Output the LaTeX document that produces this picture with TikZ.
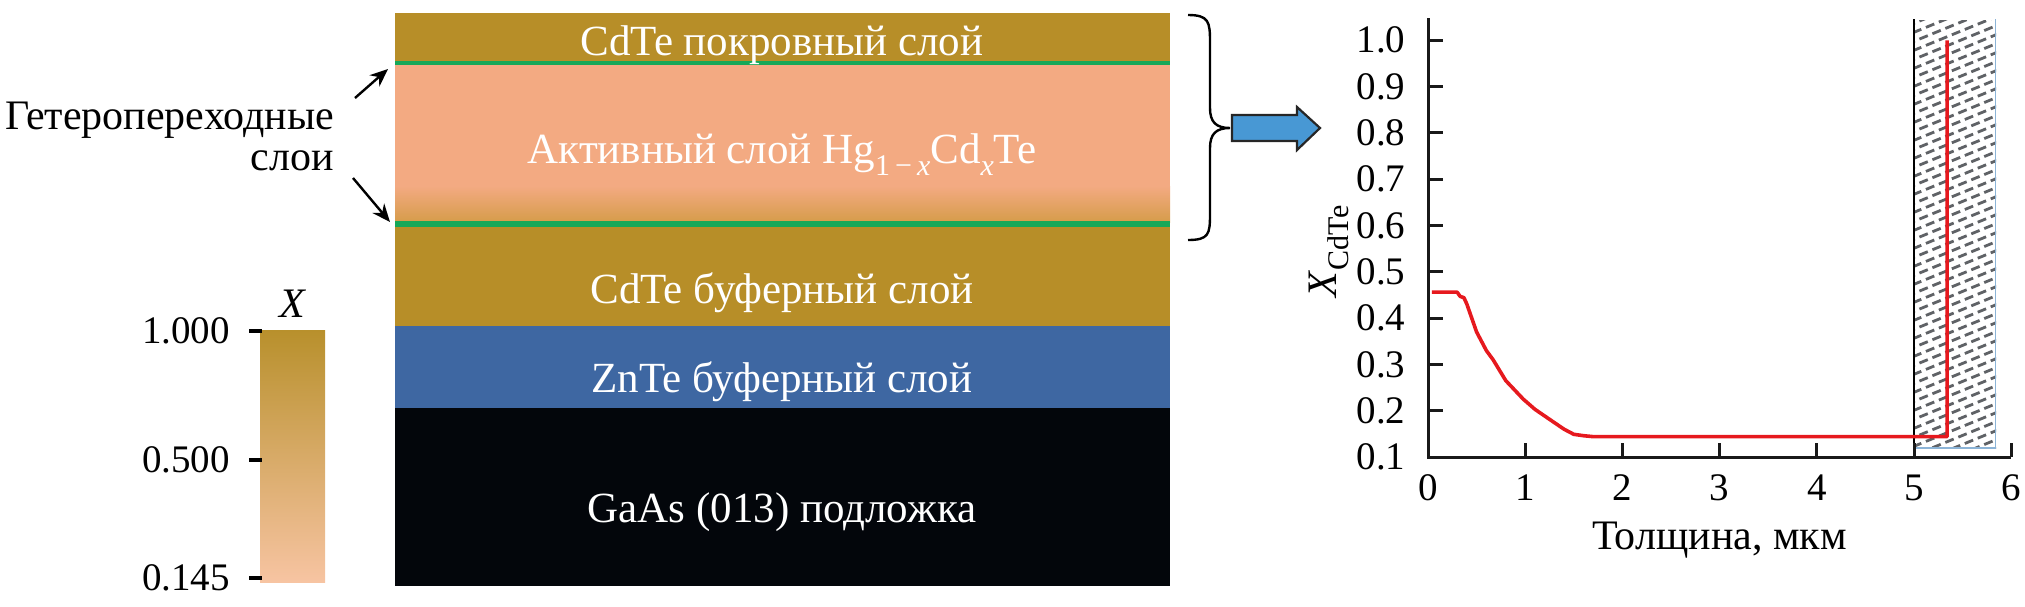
\documentclass[tikz,border=0pt]{standalone}
\usepackage{fontspec}
\setmainfont{Liberation Serif}
\usetikzlibrary{arrows.meta}
\definecolor{cdGold}{RGB}{183,142,40}
\definecolor{actPeach}{RGB}{243,170,130}
\definecolor{actLow}{RGB}{214,156,74}
\definecolor{junGreen}{RGB}{22,168,88}
\definecolor{znBlue}{RGB}{62,103,162}
\definecolor{gaBlack}{RGB}{3,6,11}
\definecolor{barTop}{RGB}{184,144,44}
\definecolor{barMid}{RGB}{218,170,112}
\definecolor{barBot}{RGB}{247,196,162}
\definecolor{arrBlue}{RGB}{72,152,212}
\definecolor{crvRed}{RGB}{230,25,30}
\definecolor{hatchGray}{RGB}{95,98,102}
\definecolor{hatchEdge}{RGB}{140,180,215}
\newcommand{\lsub}[1]{\raisebox{-0.28em}{\fontsize{15}{15}\selectfont #1}}
\tikzset{
    lyr/.style={font=\fontsize{21.5}{26}\selectfont, text=white, anchor=base},
    lbl/.style={font=\fontsize{21}{26}\selectfont},
    tck/.style={font=\fontsize{19.5}{24}\selectfont},
    ax/.style={line width=1.5pt, black!90},
    pt/.style={-{Stealth[length=9pt,width=7.5pt]}, line width=1.2pt},
    crv/.style={line width=1.8pt, crvRed, line join=round},
    hatchln/.style={line width=1.4pt, hatchGray, dash pattern=on 4.5pt off 2.5pt}
}

\begin{document}
\begin{tikzpicture}[x=0.5pt,y=-0.5pt,scale=1.0]
\useasboundingbox (0,0) rectangle (2025,606);
\fill[cdGold] (395,13) rectangle (1170,63);
\fill[actPeach] (395,63) rectangle (1170,224);
\shade[top color=actPeach,bottom color=actLow] (395,186) rectangle (1170,222);
\fill[cdGold] (395,224) rectangle (1170,326);
\fill[znBlue] (395,326) rectangle (1170,408);
\fill[gaBlack] (395,408) rectangle (1170,586);
\draw[junGreen,line width=2.2pt] (395,63)--(1170,63);
\draw[junGreen,line width=3pt] (395,224)--(1170,224);
\node[lyr] (capL) at (782,55) {CdTe покровный слой};
\node[lyr] (actL) at (782,163) {Активный слой Hg\lsub{1\,−\,\textit{x}}Cd\lsub{\textit{x}}Te};
\node[lyr] (bufL) at (782,303) {CdTe буферный слой};
\node[lyr] (znL) at (782,392) {ZnTe буферный слой};
\node[lyr] (gaL) at (782,522) {GaAs (013) подложка};
\node[lbl,anchor=base east] (hjL1) at (341,129) {Гетеропереходные};
\node[lbl,anchor=base east] (hjL2) at (341,170) {слои};
\coordinate (hjS1) at (355,98);
\coordinate (hjS2) at (353,178);
\coordinate (hjT) at (388,69);
\coordinate (hjB) at (390,222);
\draw[pt] (hjS1) -- (hjT);
\draw[pt] (hjS2) -- (hjB);
\shade[top color=barTop,middle color=barMid,bottom color=barBot] (260,330) rectangle (325,582);
\foreach \yy/\tl in {331/1.000,460/0.500,578/0.145}{
  \draw[line width=2pt] (249,\yy) -- (262,\yy);
  \node[tck,anchor=east] (cb\yy) at (237,\yy) {\tl};
}
\node[lbl] (cbX) at (293,304) {\textit{X}};
\draw[line width=1.2pt] (1188,15) .. controls (1209,15) and (1210,22) .. (1210,42) -- (1210,108)
  .. controls (1210,122) and (1216,128) .. (1230,128) .. controls (1216,128) and (1210,134) .. (1210,148)
  -- (1210,214) .. controls (1210,234) and (1209,240) .. (1188,240);
\filldraw[fill=arrBlue,draw=black!85,line width=1.1pt] (1232,115) -- (1297,115) -- (1297,107) -- (1320,128)
  -- (1297,150) -- (1297,141) -- (1232,141) -- cycle;
\begin{scope}
\clip (1913,20) rectangle (1996,448);
\foreach \k [evaluate=\k as \ph using {mod(\k,2)*3.5}] in {0,...,60}
  \draw[hatchln,dash phase=\ph pt] (1900,20+9*\k) -- ++(110,-45);
\end{scope}
\begin{scope}[shift={(1428,503.3)},x=48.6pt,y=231.5pt]
\draw[hatchEdge,line width=0.8pt] (5,0.119) -- (5.84,0.119) -- (5.84,1.045);
\draw[black,line width=1.2pt] (5,0.1) -- (5,1.045);
\draw[ax] (0,1.0475) -- (0,0.1) -- (6,0.1);
\foreach \v in {2,...,10}
  \draw[ax] (0,\v/10) -- (0.15,\v/10);
\foreach \u in {1,...,6}
  \draw[ax] (\u,0.1) -- (\u,0.13);
\foreach \t [count=\i] in {0.1,0.2,0.3,0.4,0.5,0.6,0.7,0.8,0.9,1.0}
  \node[tck,anchor=east] (yl\i) at (-0.16,\t) {\t};
\foreach \u in {0,...,6}
  \node[tck] (xl\u) at (\u,0.033) {\u};
\node[lbl,anchor=base] (xT) at (3,-0.1) {Толщина, мкм};
\node[lbl,rotate=90] (yT) at (-1.02,0.544) {\textit{X}\lsub{CdTe}};
\draw[crv] (0.04,0.456) -- (0.3,0.456) -- (0.33,0.447) -- (0.37,0.444) -- (0.4,0.43) -- (0.45,0.40)
  -- (0.5,0.37) -- (0.6,0.33) -- (0.67,0.31) -- (0.8,0.265) -- (0.98,0.225) -- (1.1,0.203)
  -- (1.26,0.18) -- (1.4,0.16) -- (1.5,0.149) -- (1.6,0.146) -- (1.7,0.144) -- (5.34,0.144) -- (5.34,1.0);
\end{scope}
\end{tikzpicture}
\end{document}
